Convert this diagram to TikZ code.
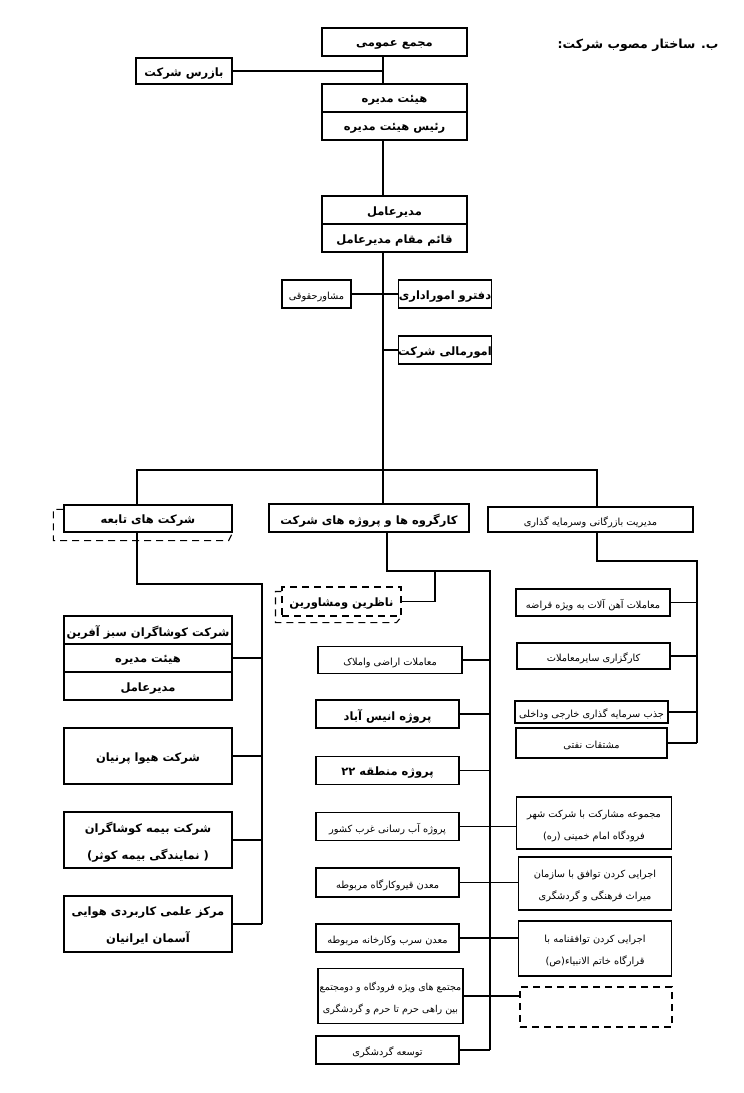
\documentclass[tikz,border=0pt]{standalone}
\usepackage{fontspec}
\usepackage{tikz}
\usetikzlibrary{positioning, calc}
\TeXXeTstate=1
\newfontfamily\farsi[Script=Arabic]{DejaVu Sans}
\newcommand{\fa}[1]{\raisebox{-2.5pt}[\height][\depth]{\beginR #1\endR}}
\definecolor{chartline}{HTML}{000000}

\tikzset{
  unit/.style={draw=chartline, line width=1.2pt, inner sep=0pt, align=center,
               font=\farsi\bfseries\fontsize{11.5}{27}\selectfont},
  unitsm/.style={unit, font=\farsi\fontsize{9.8}{22}\selectfont},
  ghost/.style={draw=chartline, line width=1.1pt, dash pattern=on 7pt off 5pt},
  link/.style={draw=chartline, line width=1.2pt},
}

\begin{document}
\begin{tikzpicture}[x=1pt, y=-1pt]
\useasboundingbox (0,0) rectangle (744,1093);
% Title
\node[font=\farsi\bfseries\fontsize{12.5}{15}\selectfont] (title) at (638,43) {\fa{ب. ساختار مصوب شرکت:}};
% Top of the chart
\node[unit, minimum width=145pt, minimum height=28pt] (majma) at (394.5,42) {\fa{مجمع عمومی}};
\node[unit, minimum width=96pt, minimum height=26pt] (bazres) at (184,71) {\fa{بازرس شرکت}};
\node[unit, minimum width=145pt, minimum height=28pt] (heyat1) at (394.5,98) {\fa{هیئت مدیره}};
\node[unit, minimum width=145pt, minimum height=28pt] (heyat2) at (394.5,126) {\fa{رئیس هیئت مدیره}};
\node[unit, minimum width=145pt, minimum height=28pt] (modir1) at (394.5,210) {\fa{مدیرعامل}};
\node[unit, minimum width=145pt, minimum height=28pt] (modir2) at (394.5,238) {\fa{قائم مقام مدیرعامل}};
\node[unitsm, minimum width=69pt, minimum height=28pt] (moshaver) at (316.5,294) {\fa{مشاورحقوقی}};
\node[unit, minimum width=88pt, minimum height=28pt] (daftar) at (445,294) {\fa{دفترو اموراداری}};
\node[unit, minimum width=88pt, minimum height=28pt] (omurmali) at (445,350) {\fa{امورمالی شرکت}};
% Second level
\node[unit, minimum width=168pt, minimum height=27pt] (tabe) at (148,518.5) {\fa{شرکت های تابعه}};
\node[unit, minimum width=200pt, minimum height=28pt] (kargoruh) at (369,518) {\fa{کارگروه ها و پروژه های شرکت}};
\node[unitsm, minimum width=205pt, minimum height=25pt] (bazargani) at (590.5,519.5) {\fa{مدیریت بازرگانی وسرمایه گذاری}};
% Subsidiaries
\node[unit, minimum width=168pt, minimum height=28pt] (kosh1) at (148,630) {\fa{شرکت کوشاگران سبز آفرین}};
\node[unit, minimum width=168pt, minimum height=28pt] (kosh2) at (148,658) {\fa{هیئت مدیره}};
\node[unit, minimum width=168pt, minimum height=28pt] (kosh3) at (148,686) {\fa{مدیرعامل}};
\node[unit, minimum width=168pt, minimum height=56pt] (hiva) at (148,756) {\fa{شرکت هیوا پرنیان}};
\node[unit, minimum width=168pt, minimum height=56pt] (bime) at (148,840) {\fa{شرکت بیمه کوشاگران}\\\fa{( نمایندگی بیمه کوثر)}};
\node[unit, minimum width=168pt, minimum height=56pt] (markaz) at (148,924) {\fa{مرکز علمی کاربردی هوایی}\\\fa{آسمان ایرانیان}};
% Working groups and projects
\node[unit, ghost, minimum width=119pt, minimum height=29pt] (nazer) at (341.5,601.5) {\fa{ناظرین ومشاورین}};
\node[unitsm, minimum width=144pt, minimum height=27pt] (amlak) at (390,660) {\fa{معاملات اراضی واملاک}};
\node[unit, minimum width=143pt, minimum height=28pt] (anis) at (387.5,714) {\fa{پروژه انیس آباد}};
\node[unit, minimum width=143pt, minimum height=28pt] (mantaghe) at (387.5,770.5) {\fa{پروژه منطقه ۲۲}};
\node[unitsm, minimum width=143pt, minimum height=28pt] (abresani) at (387.5,826.5) {\fa{پروژه آب رسانی غرب کشور}};
\node[unitsm, minimum width=143pt, minimum height=29pt] (madanghir) at (387.5,882.5) {\fa{معدن قیروکارگاه مربوطه}};
\node[unitsm, minimum width=143pt, minimum height=28pt] (madansorb) at (387.5,938) {\fa{معدن سرب وکارخانه مربوطه}};
\node[unitsm, minimum width=145pt, minimum height=55pt, font=\farsi\fontsize{9.5}{22}\selectfont] (mojtama) at (390.5,996) {\fa{مجتمع های ویژه فرودگاه و دومجتمع}\\\fa{بین راهی حرم تا حرم و گردشگری}};
\node[unitsm, minimum width=143pt, minimum height=28pt] (tosee) at (387.5,1050) {\fa{توسعه گردشگری}};
% Agreements beside the projects
\node[unitsm, minimum width=155pt, minimum height=52pt] (mosharekat) at (594,823) {\fa{مجموعه مشارکت با شرکت شهر}\\\fa{فرودگاه امام خمینی (ره)}};
\node[unitsm, minimum width=153pt, minimum height=53pt] (tavafogh) at (595,883.5) {\fa{اجرایی کردن توافق با سازمان}\\\fa{میراث فرهنگی  و گردشگری}};
\node[unitsm, minimum width=153pt, minimum height=55pt] (gharargah) at (595,948.5) {\fa{اجرایی کردن توافقنامه با}\\\fa{قرارگاه خاتم الانبیاء(ص)}};
\node[ghost, minimum width=152pt, minimum height=40pt] (khali) at (596,1007) {};
% Trade and investment
\node[unitsm, minimum width=154pt, minimum height=27pt] (ahan) at (593,602.5) {\fa{معاملات آهن آلات به ویژه قراضه}};
\node[unitsm, minimum width=153pt, minimum height=26pt] (kargozari) at (593.5,656) {\fa{کارگزاری سایرمعاملات}};
\node[unitsm, minimum width=153pt, minimum height=22pt] (jazb) at (591.5,712) {\fa{جذب سرمایه گذاری خارجی وداخلی}};
\node[unitsm, minimum width=151pt, minimum height=30pt] (moshtaghat) at (591.5,743) {\fa{مشتقات نفتی}};
% Dashed shadows
\draw[ghost] ([yshift=-5pt]tabe.north west) -- ++(-10,0) |- ([xshift=-4pt,yshift=-8pt]tabe.south east) -- (tabe.south east);
\draw[ghost] ([yshift=-5pt]nazer.north west) -- ++(-6,0) |- ([xshift=-5pt,yshift=-6pt]nazer.south east) -- (nazer.south east);
% Bus lines
\coordinate (trunk) at (383,470);
\coordinate (lfeed) at (137,0);
\coordinate (mfeed) at (387,0);
\coordinate (rfeed) at (597,0);
\coordinate (lbus) at (262,584);
\coordinate (mbus) at (490,571);
\coordinate (nfeed) at (435,571);
\coordinate (rbus) at (697,561);
% Connectors
\draw[link] (majma.south -| trunk) -- (heyat1.north -| trunk);
\draw[link] (bazres.east) -- (bazres.east -| trunk);
\draw[link] (heyat2.south -| trunk) -- (modir1.north -| trunk);
\draw[link] (modir2.south -| trunk) -- (trunk);
\draw[link] (moshaver.east) -- (daftar.west);
\draw[link] (omurmali.west) -- (omurmali.west -| trunk);
\draw[link] (tabe.north -| lfeed) |- (trunk) -| (bazargani.north -| rfeed);
\draw[link] (trunk) -- (kargoruh.north -| trunk);
\draw[link] (tabe.south -| lfeed) |- (lbus) -- (lbus |- markaz);
\foreach \n in {kosh2, hiva, bime, markaz}
  \draw[link] (\n.east) -- (\n.east -| lbus);
\draw[link] (kargoruh.south -| mfeed) |- (mbus) -- (mbus |- tosee);
\draw[link] (nfeed) |- (nazer.east);
\foreach \n in {amlak, anis, mantaghe, abresani, madanghir, madansorb, mojtama, tosee}
  \draw[link] (\n.east) -- (\n.east -| mbus);
\foreach \a/\b in {abresani/mosharekat, madanghir/tavafogh, madansorb/gharargah, mojtama/khali}
  \draw[link] (\a.east -| mbus) -- (\a.east -| \b.west);
\draw[link] (bazargani.south -| rfeed) |- (rbus) -- (rbus |- moshtaghat);
\foreach \n in {ahan, kargozari, jazb, moshtaghat}
  \draw[link] (\n.east) -- (\n.east -| rbus);
\end{tikzpicture}
\end{document}
